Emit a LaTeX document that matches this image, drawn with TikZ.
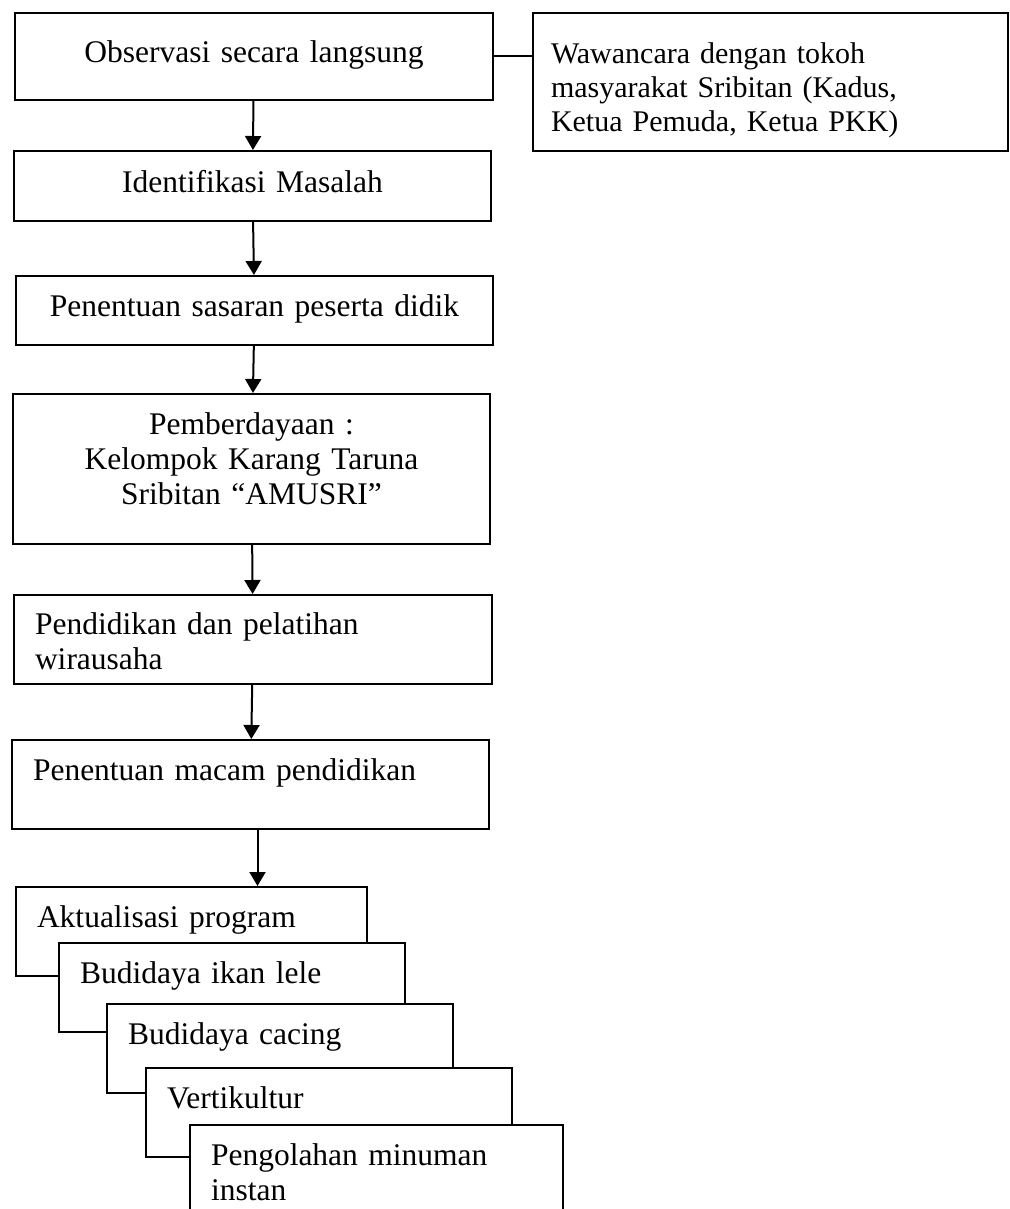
\documentclass[tikz,border=0pt]{standalone}
\usepackage{fontspec}
\setmainfont{Liberation Serif}
\usetikzlibrary{arrows.meta}
\begin{document}
\begin{tikzpicture}[x=0.5pt, y=-0.5pt,
    font=\fontsize{15.75pt}{17.5pt}\selectfont,
    box/.style={draw, line width=1pt, fill=white, anchor=north west, inner ysep=0pt, inner xsep=0pt, align=center},
    leftbox/.style={box, inner xsep=10.5pt, align=left},
    stackbox/.style={leftbox, text height=20pt, text depth=24.5pt},
    flow/.style={line width=1pt, -{Triangle[width=8pt, length=7pt]}}]
  \useasboundingbox (0,0) rectangle (1009,1209);
  % main column
  \node[box, text width=239pt, text height=25pt, text depth=18.5pt] (obs) at (14,12) {Observasi secara langsung};
  \node[leftbox, inner xsep=9pt, text width=219.5pt, text height=25.5pt, text depth=43.5pt,
        font=\fontsize{15pt}{17pt}\selectfont] (waw) at (532,12)
    {Wawancara dengan tokoh\\masyarakat Sribitan (Kadus,\\Ketua Pemuda, Ketua PKK)};
  \node[box, text width=238.5pt, text height=21pt, text depth=14pt] (idf) at (13,150) {Identifikasi Masalah};
  \node[box, text width=238.5pt, text height=20pt, text depth=14.5pt] (sas) at (15,275) {Penentuan sasaran peserta didik};
  \node[box, text width=238.5pt, text height=20pt, text depth=55pt] (pem) at (12,393)
    {Pemberdayaan :\\Kelompok Karang Taruna\\Sribitan “AMUSRI”};
  \node[leftbox, text width=218pt, text height=19.5pt, text depth=25pt] (pen) at (13,594) {Pendidikan dan pelatihan\\wirausaha};
  \node[leftbox, text width=217.5pt, text height=20pt, text depth=24.5pt] (mac) at (11,739) {Penentuan macam pendidikan};
  % program stack
  \foreach \n/\x/\y/\tw/\txt in {
      akt/15/886/154.5pt/{Aktualisasi program},
      lel/58/942/152pt/{Budidaya ikan lele},
      cac/106/1003/152pt/{Budidaya cacing},
      ver/145/1067/162pt/{Vertikultur},
      pgl/189/1124/165.5pt/{Pengolahan minuman\\instan}}
    \node[stackbox, text width=\tw] (\n) at (\x,\y) {\txt};
  \draw[line width=1pt] (obs.east) -- (obs.east -| waw.west);
  \draw[flow] (obs) -- (idf);
  \draw[flow] (idf) -- (sas);
  \draw[flow] (sas) -- (pem);
  \draw[flow] (pem) -- (pen);
  \draw[flow] (pen) -- (mac);
  \draw[flow] ([xshift=3.5pt]mac.south) -- ([xshift=3.5pt]mac.south |- akt.north);
\end{tikzpicture}
\end{document}
